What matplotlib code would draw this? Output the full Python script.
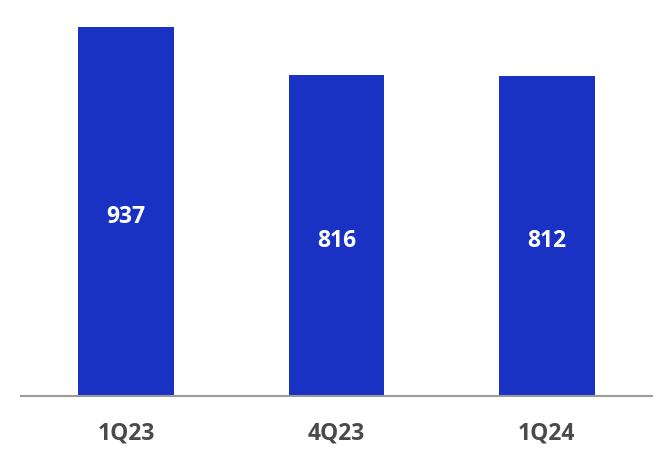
import matplotlib
matplotlib.use("Agg")
import matplotlib.pyplot as plt

categories = ["1Q23", "4Q23", "1Q24"]
values = [937, 816, 812]

BAR = "#1a32c4"
plt.rcParams['font.family'] = ['Open Sans', 'DejaVu Sans']

fig = plt.figure(figsize=(6.72, 4.60), dpi=100)
ax = fig.add_axes([21/672, 1-397/460, 631/672, 387/460])
x = range(len(categories))
bars = ax.bar(x, values, width=0.456, color=BAR, zorder=2)
for xi, v in zip(x, values):
    ax.annotate(f"{v}", (xi, v/2), xytext=(0, -3), textcoords="offset points",
                ha="center", va="center", color="white",
                fontsize=16.5, fontweight="bold")
ax.set_xlim(-0.5, 2.5)
ax.set_ylim(0, 983)
ax.set_xticks(list(x))
ax.set_xticklabels(categories, fontsize=16.5, fontweight="bold", color="#4a4a4a")
ax.tick_params(axis="x", length=0, pad=18)
ax.set_yticks([])
for s in ["top", "right", "left"]:
    ax.spines[s].set_visible(False)
ax.spines["bottom"].set_color("#9a9a9a")
ax.spines["bottom"].set_linewidth(1.5)
ax.spines["bottom"].set_zorder(3)
fig.savefig("out.png", dpi=100)
